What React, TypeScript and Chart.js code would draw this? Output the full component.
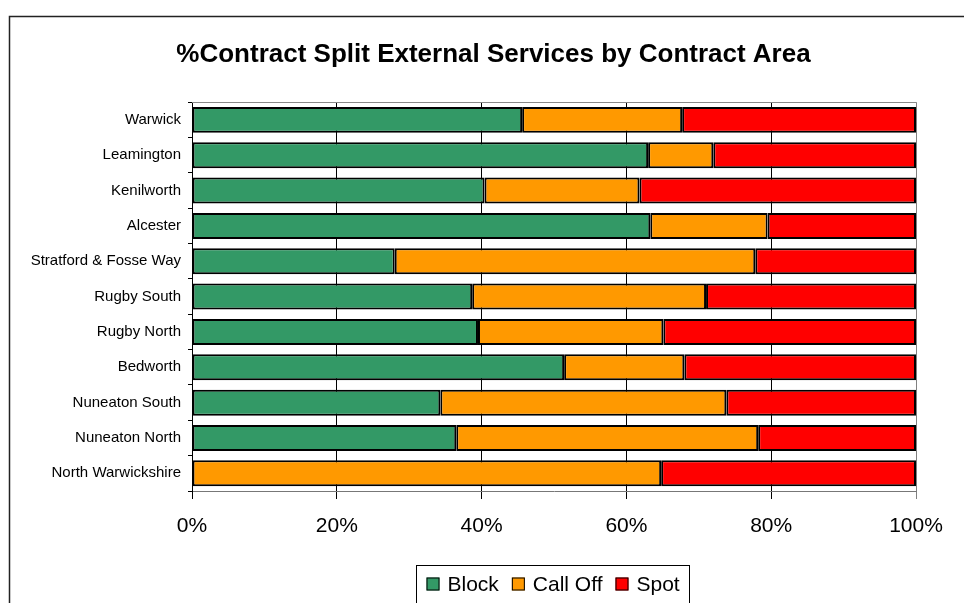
import React, { useEffect, useRef } from 'react';
import { Chart, registerables } from 'chart.js';

Chart.register(...registerables);

const titleText = '%Contract Split External Services by Contract Area';

const categories = [
  'Warwick',
  'Leamington',
  'Kenilworth',
  'Alcester',
  'Stratford & Fosse Way',
  'Rugby South',
  'Rugby North',
  'Bedworth',
  'Nuneaton South',
  'Nuneaton North',
  'North Warwickshire',
];

const blockValues = [45.6, 63.0, 40.4, 63.3, 28.0, 38.7, 39.5, 51.4, 34.3, 36.5, 0];
const callOffValues = [22.1, 9.0, 21.4, 16.2, 49.8, 32.3, 25.6, 16.6, 39.5, 41.7, 64.8];
const spotValues = [32.3, 28.0, 38.2, 20.5, 22.2, 29.0, 34.9, 32.0, 26.2, 21.8, 35.2];

const seriesNames = ['Block', 'Call Off', 'Spot'];
const seriesColors = ['#339966', '#FF9900', '#FF0000'];

const xTickLabels = ['0%', '20%', '40%', '60%', '80%', '100%'];

const FONT = 'Arial, "Liberation Sans", sans-serif';

const framePlugin = {
  id: 'framePlugin',
  afterLayout(chart: any) {
    const t = chart.titleBlock;
    if (t) {
      t.left = 23;
      t.right = chart.width;
      t.width = t.right - t.left;
    }
  },
  beforeDraw(chart: any) {
    const ctx = chart.ctx;
    ctx.save();
    ctx.fillStyle = '#ffffff';
    ctx.fillRect(0, 0, chart.width, chart.height);
    ctx.strokeStyle = '#222';
    ctx.lineWidth = 1.5;
    ctx.beginPath();
    ctx.moveTo(9.5, chart.height);
    ctx.lineTo(9.5, 16.5);
    ctx.lineTo(chart.width, 16.5);
    ctx.stroke();
    ctx.restore();
  },
  afterDraw(chart: any) {
    const ctx = chart.ctx;
    const a = chart.chartArea;
    ctx.save();
    ctx.strokeStyle = '#888';
    ctx.lineWidth = 1;
    ctx.beginPath();
    ctx.moveTo(a.left, Math.round(a.top) + 0.5);
    ctx.lineTo(a.right, Math.round(a.top) + 0.5);
    ctx.stroke();
    ctx.restore();
  },
};

const legendPlugin = {
  id: 'boxLegend',
  afterDraw(chart: any) {
    const ctx = chart.ctx;
    const a = chart.chartArea;
    const fontSize = 21;
    const box = 13;
    const gapText = 8;
    const gapItem = 13;
    const padX = 10;
    ctx.save();
    ctx.font = `${fontSize}px ${FONT}`;
    const ds = chart.data.datasets;
    let total = padX * 2;
    const widths = ds.map((d: any) => ctx.measureText(d.label).width);
    widths.forEach((w: number, i: number) => {
      total += box + gapText + w + (i < ds.length - 1 ? gapItem : 0);
    });
    const cx = (a.left + a.right) / 2 - 1.5;
    const left = Math.round(cx - total / 2) + 0.5;
    const top = 565.5;
    ctx.strokeStyle = '#000';
    ctx.lineWidth = 1;
    ctx.strokeRect(left, top, Math.round(total), 60);
    const cy = 584;
    let x = left + padX;
    ds.forEach((d: any, i: number) => {
      ctx.fillStyle = d.backgroundColor;
      ctx.fillRect(x, cy - box / 2, box, box);
      ctx.strokeStyle = '#000';
      ctx.strokeRect(x + 0.5, cy - box / 2 + 0.5, box - 1, box - 1);
      ctx.fillStyle = '#000';
      ctx.textBaseline = 'middle';
      ctx.textAlign = 'left';
      ctx.fillText(d.label, x + box + gapText, cy + 1);
      x += box + gapText + widths[i] + gapItem;
    });
    ctx.restore();
  },
};

export default function App() {
  const canvasRef = useRef<HTMLCanvasElement | null>(null);

  useEffect(() => {
    const canvas = canvasRef.current;
    if (!canvas) return;
    const valuesList = [blockValues, callOffValues, spotValues];
    const chart = new Chart(canvas, {
      type: 'bar',
      data: {
        labels: categories,
        datasets: seriesNames.map((name, i) => ({
          label: name,
          data: valuesList[i],
          backgroundColor: seriesColors[i],
          borderColor: '#000',
          borderWidth: 2,
          borderSkipped: false,
          categoryPercentage: 0.735,
          barPercentage: 1,
        })),
      },
      options: {
        indexAxis: 'y',
        responsive: false,
        animation: false,
        devicePixelRatio: 1,
        layout: { padding: { left: 10, right: 48, top: 0, bottom: 0 } },
        plugins: {
          legend: { display: false },
          tooltip: { enabled: false },
          title: {
            display: true,
            text: titleText,
            color: '#000',
            font: { family: FONT, size: 26, weight: 'bold', lineHeight: 1.2 },
            padding: { top: 39, bottom: 32 },
          },
        },
        scales: {
          x: {
            stacked: true,
            min: 0,
            max: 100,
            ticks: {
              stepSize: 20,
              color: '#000',
              font: { family: FONT, size: 21 },
              padding: 15,
              callback: (v: any) => xTickLabels[Math.round(Number(v) / 20)],
            },
            grid: {
              color: (c: any) => (c.tick && c.tick.value === 100 ? '#808080' : '#000'),
              lineWidth: 1,
              tickLength: 8,
              drawOnChartArea: true,
            },
            border: { display: true, color: '#777', width: 1 },
            afterFit: (scale: any) => {
              scale.height = 112;
            },
          },
          y: {
            stacked: true,
            ticks: {
              color: '#000',
              font: { family: FONT, size: 15 },
              padding: 7,
            },
            grid: {
              offset: true,
              drawOnChartArea: false,
              color: '#000',
              tickLength: 4,
            },
            border: { display: true, color: '#000', width: 1 },
            afterFit: (scale: any) => {
              scale.width = 182;
            },
          },
        },
      },
      plugins: [framePlugin, legendPlugin],
    });
    return () => chart.destroy();
  }, []);

  return (
    <div style={{ position: 'absolute', left: 0, top: 0, width: 964, height: 603, background: '#fff' }}>
      <canvas ref={canvasRef} width={964} height={603} style={{ display: 'block', width: 964, height: 603 }} />
    </div>
  );
}
